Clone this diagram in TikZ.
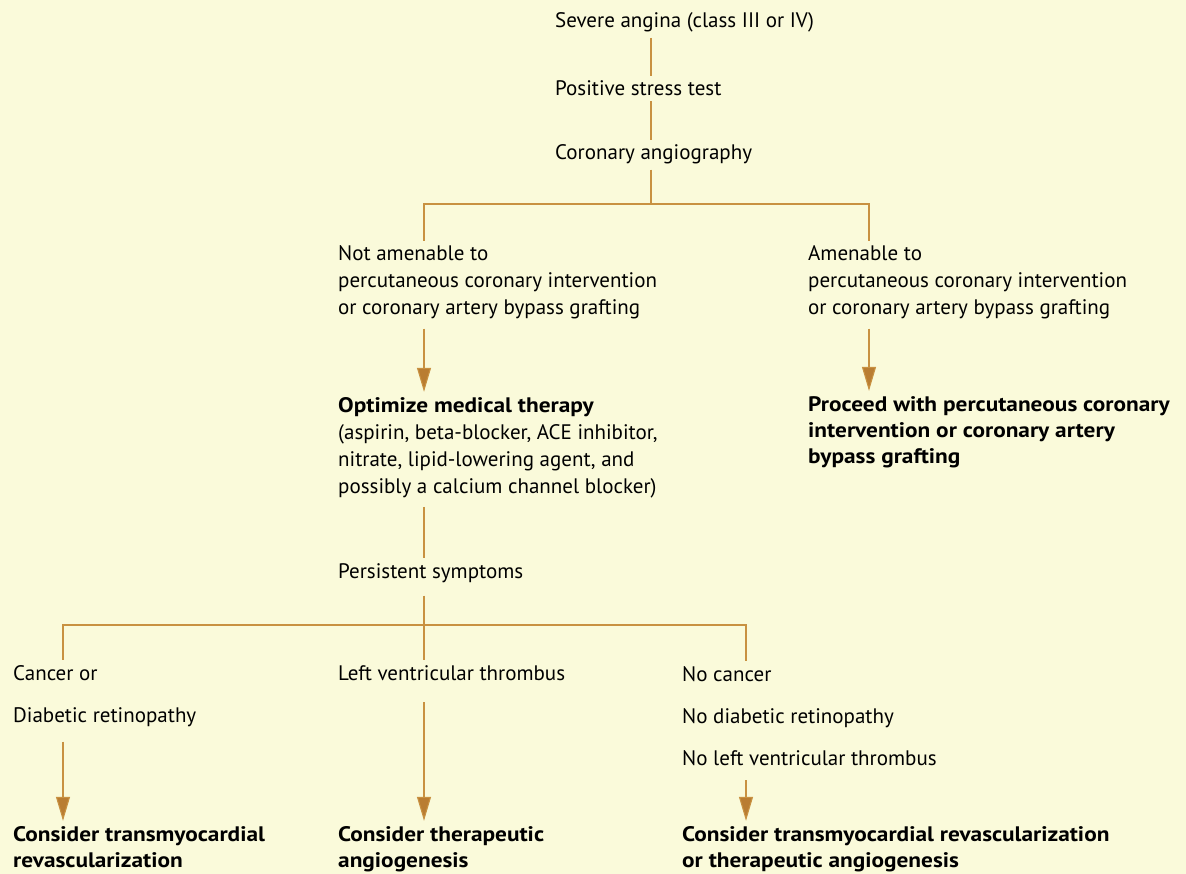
\documentclass[tikz,border=0pt]{standalone}
\usepackage{fontspec}
\setmainfont{PT Sans}[BoldFeatures={FakeStretch=1.11}]
\usetikzlibrary{arrows.meta}
\definecolor{paper}{RGB}{250,250,218}
\definecolor{flowline}{RGB}{200,145,65}
\definecolor{flowtip}{RGB}{185,125,50}

\begin{document}
\begin{tikzpicture}[x=1pt,y=-1pt,
  txt/.style={anchor=base west,inner xsep=0pt,inner ysep=5pt,align=left,
    font=\fontsize{21}{27}\selectfont},
  bold/.style={font=\fontsize{21}{26}\selectfont\bfseries},
  link/.style={draw=flowline,line width=1.1pt},
  arr/.style={link,shorten <=4pt,-{Triangle[length=24pt,width=14pt,fill=flowtip]}}]
  % background
  \fill[paper] (0,0) rectangle (1186,874);
  \useasboundingbox (0,0) rectangle (1186,874);
  % top chain
  \node[txt] (sev) at (555,28) {Severe angina (class III or IV)};
  \node[txt] (pos) at (555,96) {Positive stress test};
  \node[txt] (cor) at (555,160) {Coronary angiography};
  % first split (multi-line nodes sit on their last baseline)
  \node[txt] (notam) at (338,315) {Not amenable to\\percutaneous coronary intervention\\or coronary artery bypass grafting};
  \node[txt] (am) at (808,315) {Amenable to\\percutaneous coronary intervention\\or coronary artery bypass grafting};
  \node[txt] (opt) at (338,493) {\textbf{Optimize medical therapy}\\(aspirin, beta-blocker, ACE inhibitor,\\nitrate, lipid-lowering agent, and\\possibly a calcium channel blocker)};
  \node[txt,bold] (proc) at (808,463) {Proceed with percutaneous coronary\\intervention or coronary artery\\bypass grafting};
  \node[txt] (pers) at (338,578) {Persistent symptoms};
  % second split
  \node[txt] (canc) at (13,722) {Cancer or\\[15pt]Diabetic retinopathy};
  \node[txt] (lvt) at (338,680) {Left ventricular thrombus};
  \node[txt] (nocanc) at (682,765) {No cancer\\[15pt]No diabetic retinopathy\\[15pt]No left ventricular thrombus};
  \node[txt,bold] (tmr) at (13,867) {Consider transmyocardial\\revascularization};
  \node[txt,bold] (ang) at (338,867) {Consider therapeutic\\angiogenesis};
  \node[txt,bold] (both) at (682,867) {Consider transmyocardial revascularization\\or therapeutic angiogenesis};
  % forks
  \coordinate (fork1) at (651,204);
  \coordinate (fork1l) at (424,204);
  \coordinate (fork1r) at (869,204);
  \coordinate (fork2l) at (63,625);
  \coordinate (fork2r) at (746,625);
  % connectors
  \draw[link] (sev.south -| fork1) -- (pos.north -| fork1);
  \draw[link] (pos.south -| fork1) -- (cor.north -| fork1);
  \draw[link] (cor.south -| fork1) -- (fork1);
  \draw[link] (notam.north -| fork1l) -- (fork1l) -- (fork1r) -- (am.north -| fork1r);
  \draw[arr] (notam.south -| fork1l) -- (opt.north -| fork1l);
  \draw[arr] (am.south -| fork1r) -- (proc.north -| fork1r);
  \draw[link,shorten <=4pt] (opt.south -| fork1l) -- (pers.north -| fork1l);
  \draw[link,shorten <=8pt] (pers.south -| fork1l) -- (lvt.north -| fork1l);
  \draw[link] (canc.north -| fork2l) -- (fork2l) -- (fork2r) -- (nocanc.north -| fork2r);
  \draw[arr,shorten <=10pt] (canc.south -| fork2l) -- (tmr.north -| fork2l);
  \draw[arr,shorten <=17pt] (lvt.south -| fork1l) -- (ang.north -| fork1l);
  \draw[arr,shorten <=10pt] (nocanc.south -| fork2r) -- (both.north -| fork2r);
\end{tikzpicture}
\end{document}
